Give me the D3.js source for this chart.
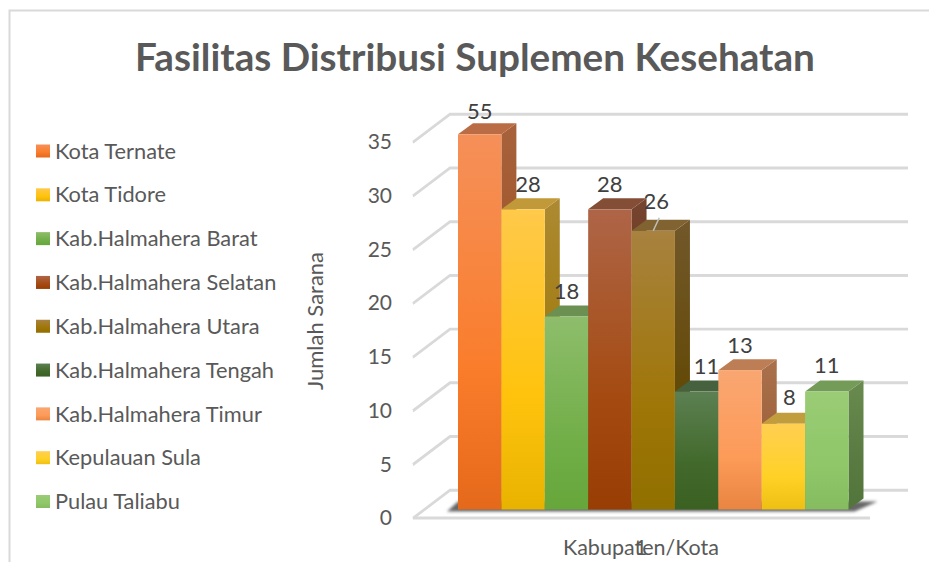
<!DOCTYPE html>
<html>
<head>
<meta charset="utf-8">
<script src="https://cdn.jsdelivr.net/npm/d3@7/dist/d3.min.js"></script>
<style>
html,body{margin:0;padding:0;background:#fff;overflow:hidden}
text{font-family:Lato,"Open Sans",sans-serif}
</style>
</head>
<body>
<svg id="c" width="929" height="562"></svg>
<script>
const titleText = "Fasilitas Distribusi Suplemen Kesehatan";
const yAxisTitle = "Jumlah Sarana";
const xAxisTitle = "Kabupaten/Kota";
const category = "1";
const seriesNames = ["Kota Ternate","Kota Tidore","Kab.Halmahera Barat","Kab.Halmahera Selatan","Kab.Halmahera Utara","Kab.Halmahera Tengah","Kab.Halmahera Timur","Kepulauan Sula","Pulau Taliabu"];
const seriesValues = [55,28,18,28,26,11,13,8,11];
const yTicks = [0,5,10,15,20,25,30,35];
const colorTop = ["#F59059","#FFC94A","#8EBD6B","#AE6547","#A8823F","#5C8052","#F9A671","#FFCF52","#9ACC75"];
const colorMid = ["#FA7D2C","#FFC30D","#72AF49","#A54B12","#9F7608","#42692B","#FD9B59","#FFD126","#8FC769"];
const colorBot = ["#E5691A","#E8B300","#66A63A","#983E05","#907000","#3A6022","#E98541","#EEC014","#85BC60"];
const labelDx = [0,5,0,0,3,10,0,6,0];
const labelDy = [-23,-25,-25,-25,-29,-25,-25,-26,-26];

const depthX = 15, depthY = 11;
const svg = d3.select("#c");
const defs = svg.append("defs");

// frame
svg.append("path").attr("d","M9.5 562V10.5H929").attr("fill","none").attr("stroke","#D9D9D9").attr("stroke-width",2);

// title
svg.append("text").attr("x",475).attr("y",71).attr("text-anchor","middle")
  .attr("font-size",38.7).attr("font-weight",700).attr("fill","#595959").text(titleText);

// scales
const yFront = d3.scaleLinear().domain([0,35]).range([518,142]);
const yBar = d3.scaleLinear().domain([0,35]).range([509.5,134.3]).clamp(true);
const wallDx = 37, wallDy = -28;
const x = d3.scaleBand().domain(seriesNames).range([458,848.5]).padding(0);

// walls: gridlines
const grid = svg.append("g").attr("fill","none").attr("stroke-linecap","butt");
function gridPath(v){
  const y0 = yFront(v), x0 = 413;
  return `M${x0} ${y0}L${x0+wallDx} ${y0+wallDy}H908`;
}
grid.selectAll("path.s").data(yTicks).join("path").attr("class","s")
  .attr("d",d=>gridPath(d)).attr("stroke","#BEBEBE").attr("stroke-width",1.5).attr("transform","translate(0,1)").attr("opacity",.55);
grid.selectAll("path.m").data(yTicks).join("path").attr("class","m")
  .attr("d",d=>gridPath(d)).attr("stroke","#D9D9D9").attr("stroke-width",2.4);
// floor front edge
svg.append("path").attr("d",`M${413} ${yFront(0)}H870`).attr("stroke","#D9D9D9").attr("stroke-width",3).attr("fill","none");

// y axis
const yAxis = d3.axisLeft(yFront).tickValues(yTicks).tickSize(0).tickPadding(0);
const ax = svg.append("g").attr("transform","translate(392,0)").call(yAxis);
ax.select(".domain").remove();
ax.selectAll("text").attr("font-size",21).attr("fill","#595959").style("font-family","Lato,sans-serif");

// axis titles
svg.append("text").attr("transform","translate(323,321) rotate(-90)").attr("text-anchor","middle")
  .attr("font-size",22).attr("fill","#595959").text(yAxisTitle);
svg.append("text").attr("x",641).attr("y",555).attr("text-anchor","middle")
  .attr("font-size",21.5).attr("fill","#595959").text(xAxisTitle);
svg.append("text").attr("x",641).attr("y",555).attr("text-anchor","middle")
  .attr("font-size",21.5).attr("fill","#595959").text(category);

// shadow at base
const blur = defs.append("filter").attr("id","blur").attr("x","-10%").attr("y","-50%").attr("width","120%").attr("height","200%");
blur.append("feGaussianBlur").attr("stdDeviation",1.5);
const bx0 = x.range()[0], bx1 = x.range()[1], by0 = yBar(0);
svg.append("path").attr("d",`M${bx0-11} ${by0+2}L${bx0} ${by0-8}H${bx1+29}L${bx1+6} ${by0+2}Z`)
  .attr("fill","#666").attr("filter","url(#blur)");

// gradients
function grad(id,stops){
  const g = defs.append("linearGradient").attr("id",id).attr("x1",0).attr("x2",0).attr("y1",0).attr("y2",1);
  stops.forEach(([o,c])=>g.append("stop").attr("offset",o).attr("stop-color",c));
}
function dark(c,k){const r=d3.rgb(c);return d3.rgb(r.r*k,r.g*k,r.b*k).formatHex();}
seriesNames.forEach((n,i)=>{
  grad("f"+i,[[0,colorTop[i]],[.62,colorMid[i]],[1,colorBot[i]]]);
  grad("s"+i,[[0,dark(colorTop[i],.68)],[.62,dark(colorMid[i],.62)],[1,dark(colorBot[i],.62)]]);
  grad("l"+i,[[0,colorTop[i]],[.6,colorMid[i]],[1,colorBot[i]]]);
});

// bars: drawn left to right, each from its value through the scales
const bars = svg.selectAll("g.bar").data(seriesValues).join("g").attr("class","bar");
bars.each(function(v,i){
  const g = d3.select(this);
  const x0 = x(seriesNames[i]), w = x.bandwidth(), t = yBar(v), b = yBar(0);
  g.append("path").attr("d",`M${x0+w} ${t}L${x0+w+depthX} ${t-depthY}V${b-depthY}L${x0+w} ${b}Z`).attr("fill",`url(#s${i})`);
  g.append("path").attr("d",`M${x0} ${t}L${x0+depthX} ${t-depthY}H${x0+w+depthX}L${x0+w} ${t}Z`).attr("fill",dark(colorTop[i],.76));
  g.append("rect").attr("x",x0).attr("y",t).attr("width",w).attr("height",b-t).attr("fill",`url(#f${i})`);
});

// leader line for the fifth label
const li = 4, lx = x(seriesNames[li])+x.bandwidth()/2, ly = yBar(seriesValues[li]);
svg.append("line").attr("x1",lx).attr("y1",ly).attr("x2",lx+6).attr("y2",ly-13).attr("stroke","#BFBFBF").attr("stroke-width",1.5);

// data labels
svg.selectAll("text.dl").data(seriesValues).join("text").attr("class","dl")
  .attr("x",(d,i)=>x(seriesNames[i])+x.bandwidth()/2+labelDx[i])
  .attr("y",(d,i)=>yBar(d)+labelDy[i])
  .attr("dy","0.35em").attr("text-anchor","middle").attr("font-size",22).attr("fill","#404040")
  .text(d=>d);

// legend
const legY = d3.scalePoint().domain(seriesNames).range([151,501.5]);
const leg = svg.selectAll("g.leg").data(seriesNames).join("g").attr("class","leg")
  .attr("transform",d=>`translate(36,${legY(d)})`);
leg.append("rect").attr("y",-6.5).attr("width",14).attr("height",13).attr("fill",(d,i)=>`url(#l${i})`);
leg.append("text").attr("x",19).attr("dy","0.35em").attr("font-size",21.8).attr("fill","#595959").text(d=>d);
</script>
</body>
</html>
